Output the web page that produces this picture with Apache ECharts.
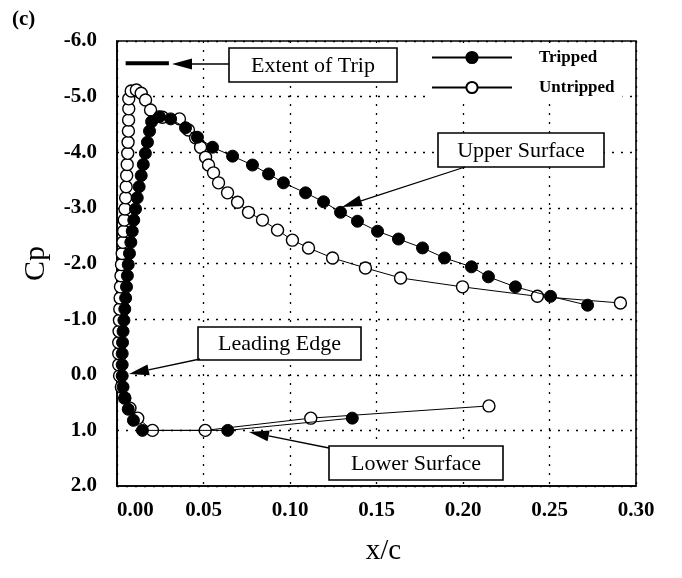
<!DOCTYPE html>
<html>
<head>
<meta charset="utf-8">
<script src="https://cdn.jsdelivr.net/npm/echarts@6/dist/echarts.min.js"></script>
<style>
  html, body { margin: 0; padding: 0; background: #fff; }
  #chart { width: 682px; height: 578px; }
</style>
</head>
<body>
<div id="chart"></div>
<script>
// Pressure coefficient over the forward 30% of the chord, tripped vs untripped.
// Each series runs from the lower surface, round the leading edge, onto the upper surface.
const xTicks = [0, 0.05, 0.10, 0.15, 0.20, 0.25, 0.30];
const cpTicks = [-6, -5, -4, -3, -2, -1, 0, 1, 2];

const trippedX = [0.136, 0.064, 0.0147, 0.0095, 0.0065, 0.0045, 0.0035, 0.003, 0.003, 0.003,
  0.0032, 0.0035, 0.004, 0.0045, 0.005, 0.0055, 0.006, 0.0065, 0.0072, 0.008,
  0.0088, 0.0097, 0.0107, 0.0117, 0.0128, 0.014, 0.0152, 0.0164, 0.0176, 0.0188,
  0.020, 0.0245, 0.031, 0.0396, 0.0465, 0.0552, 0.0668, 0.0783, 0.0876, 0.0962,
  0.109, 0.1194, 0.1292, 0.139, 0.1506, 0.1627, 0.1766, 0.1893, 0.2049, 0.2147,
  0.2303, 0.2506, 0.272];
const trippedCp = [0.78, 1.0, 1.0, 0.82, 0.62, 0.42, 0.22, 0.02, -0.18, -0.38,
  -0.58, -0.78, -0.98, -1.18, -1.38, -1.58, -1.78, -1.98, -2.18, -2.38,
  -2.58, -2.78, -2.98, -3.18, -3.38, -3.58, -3.78, -3.98, -4.18, -4.38,
  -4.55, -4.64, -4.60, -4.44, -4.27, -4.09, -3.93, -3.77, -3.61, -3.45,
  -3.27, -3.11, -2.92, -2.76, -2.58, -2.44, -2.28, -2.10, -1.94, -1.76,
  -1.58, -1.41, -1.25];

const untrippedX = [0.215, 0.112, 0.051, 0.0205, 0.012, 0.0075, 0.0045, 0.0025, 0.0015, 0.001,
  0.001, 0.001, 0.0012, 0.0014, 0.0016, 0.0018, 0.002, 0.0023, 0.0026, 0.003,
  0.0034, 0.0038, 0.0042, 0.0046, 0.005, 0.0053, 0.0056, 0.0059, 0.0062, 0.0064,
  0.0066, 0.0067, 0.0068, 0.0068, 0.0082, 0.0112, 0.014, 0.0165, 0.0194, 0.0263,
  0.0361, 0.0413, 0.0454, 0.0483, 0.0512, 0.0529, 0.0558, 0.0587, 0.0639, 0.0697,
  0.076, 0.0841, 0.0928, 0.1014, 0.1107, 0.1246, 0.1436, 0.1639, 0.1997, 0.243,
  0.291];
const untrippedCp = [0.56, 0.78, 1.0, 1.0, 0.78, 0.6, 0.42, 0.22, 0.02, -0.18,
  -0.38, -0.58, -0.78, -0.98, -1.18, -1.38, -1.58, -1.78, -1.98, -2.18,
  -2.38, -2.58, -2.78, -2.98, -3.18, -3.38, -3.58, -3.78, -3.98, -4.18,
  -4.38, -4.58, -4.78, -4.96, -5.10, -5.12, -5.06, -4.94, -4.76, -4.63,
  -4.60, -4.40, -4.26, -4.09, -3.91, -3.77, -3.63, -3.45, -3.27, -3.10,
  -2.92, -2.78, -2.60, -2.42, -2.28, -2.10, -1.92, -1.74, -1.58, -1.41,
  -1.29];

// chordwise extent of the boundary-layer trip
const tripExtentX = [0.005, 0.030];
const tripExtentCp = [-5.6, -5.6];

const SERIF = "'Liberation Serif', 'Times New Roman', serif";
const zip = (xs, ys) => xs.map((x, i) => [x, ys[i]]);

// arrow from (x1,y1) to its tip at (x2,y2), filled head
function arrow(x1, y1, x2, y2) {
  const dx = x2 - x1, dy = y2 - y1, len = Math.hypot(dx, dy);
  const ux = dx / len, uy = dy / len, hl = 20, hw = 5.5;
  const bx = x2 - ux * hl, by = y2 - uy * hl;
  return [
    { type: 'line', z: 100, shape: { x1: x1, y1: y1, x2: bx, y2: by },
      style: { stroke: '#000', lineWidth: 1.3 } },
    { type: 'polygon', z: 100,
      shape: { points: [[x2, y2], [bx - uy * hw, by + ux * hw], [bx + uy * hw, by - ux * hw]] },
      style: { fill: '#000' } }
  ];
}

// boxed annotation label
function box(x, y, w, h, text) {
  return [
    { type: 'rect', z: 100, shape: { x: x, y: y, width: w, height: h },
      style: { fill: '#fff', stroke: '#000', lineWidth: 1.6 } },
    { type: 'text', z: 101, x: x + w / 2, y: y + h / 2 + 1,
      style: { text: text, fill: '#000', font: '22px ' + SERIF, align: 'center', verticalAlign: 'middle' } }
  ];
}

const chart = echarts.init(document.getElementById('chart'), null, { renderer: 'canvas' });

const labelStyle = { color: '#000', fontFamily: SERIF, fontSize: 21, fontWeight: 'bold' };
const gridLine = { show: true, lineStyle: { color: '#000', type: [2, 7], width: 1.3 } };

chart.setOption({
  animation: false,
  backgroundColor: '#fff',
  grid: { left: 117, right: 46, top: 41, bottom: 92, show: true, borderColor: '#000', borderWidth: 1.6 },
  legend: {
    data: ['Tripped', 'Untripped'],
    orient: 'vertical', left: 427, top: 43,
    itemWidth: 80, itemHeight: 14, itemGap: 13,
    backgroundColor: '#fff', padding: [6, 8, 6, 4],
    textStyle: { color: '#000', fontFamily: SERIF, fontSize: 17, fontWeight: 'bold', padding: [0, 0, 0, 22] }
  },
  xAxis: {
    type: 'value', min: xTicks[0], max: xTicks[xTicks.length - 1], interval: 0.05,
    axisLine: { show: true, onZero: false, lineStyle: { color: '#000', width: 1.6 } },
    axisTick: { show: false },
    splitLine: gridLine,
    axisLabel: Object.assign({ margin: 14, alignMinLabel: 'left', formatter: v => v.toFixed(2) }, labelStyle),
    name: 'x/c', nameLocation: 'middle', nameGap: 51,
    nameTextStyle: { color: '#000', fontFamily: SERIF, fontSize: 29, padding: [0, 0, 0, 14] }
  },
  yAxis: {
    type: 'value', inverse: true, min: cpTicks[0], max: cpTicks[cpTicks.length - 1], interval: 1,
    axisLine: { show: true, onZero: false, lineStyle: { color: '#000', width: 1.6 } },
    axisTick: { show: false },
    splitLine: gridLine,
    axisLabel: Object.assign({ margin: 20, formatter: v => v.toFixed(1) }, labelStyle),
    name: 'Cp', nameLocation: 'middle', nameRotate: 90, nameGap: 66,
    nameTextStyle: { color: '#000', fontFamily: SERIF, fontSize: 30 }
  },
  series: [
    {
      name: 'Untripped', type: 'line', z: 3,
      data: zip(untrippedX, untrippedCp),
      symbol: 'circle', symbolSize: 12,
      itemStyle: { color: '#fff', borderColor: '#000', borderWidth: 1.4 },
      lineStyle: { color: '#000', width: 1 }
    },
    {
      name: 'Tripped', type: 'line', z: 4,
      data: zip(trippedX, trippedCp),
      symbol: 'circle', symbolSize: 12,
      itemStyle: { color: '#000', borderColor: '#000', borderWidth: 1 },
      lineStyle: { color: '#000', width: 1 }
    },
    {
      name: 'Trip extent', type: 'line', z: 5,
      data: zip(tripExtentX, tripExtentCp),
      symbol: 'none', lineStyle: { color: '#000', width: 4 }
    }
  ],
  graphic: [
    { type: 'text', left: 12, top: 9, z: 100,
      style: { text: '(c)', fill: '#000', font: 'bold 21px ' + SERIF } },
    ...box(229, 48, 168, 34, 'Extent of Trip'),
    ...arrow(229, 64, 172, 64),
    ...box(438, 133, 166, 34, 'Upper Surface'),
    ...arrow(465, 167, 342, 207),
    ...box(198, 327, 163, 33, 'Leading Edge'),
    ...arrow(200, 359, 129, 374),
    ...box(329, 446, 174, 34, 'Lower Surface'),
    ...arrow(329, 448, 249, 432)
  ]
});
</script>
</body>
</html>
